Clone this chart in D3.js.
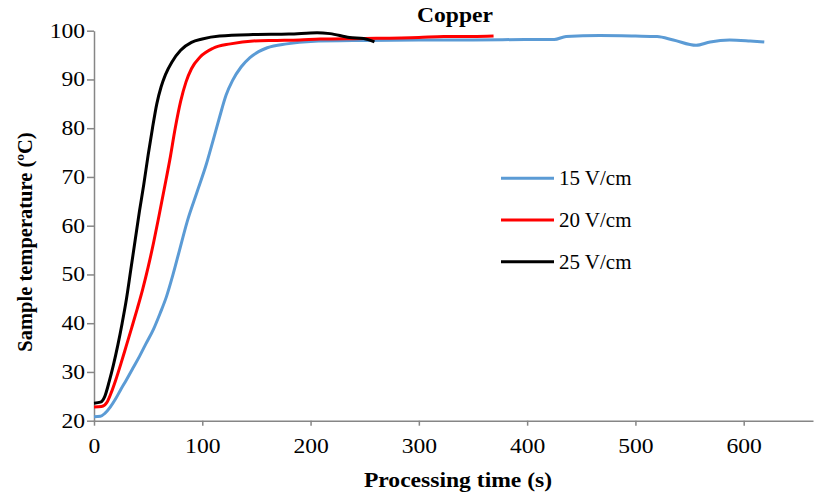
<!DOCTYPE html>
<html>
<head>
<meta charset="utf-8">
<script src="https://cdn.jsdelivr.net/npm/d3@7"></script>
<style>
  body { margin: 0; background: #fff; }
  svg text { font-family: "Liberation Serif", "Times New Roman", serif; fill: #000; }
  .axis path, .axis line { stroke: #868686; stroke-width: 1.5; }
  .axis text { font-size: 20px; font-family: "Liberation Serif", "Times New Roman", serif; }
</style>
</head>
<body>
<svg class="chart" width="814" height="496"></svg>
<script>
var width = 814,
    height = 496,
    stretch = 1.18; // the original text looks a bit wide

// series names and ticks
var seriesNames = ["15 V/cm", "20 V/cm", "25 V/cm"];
var xTicks = [0, 100, 200, 300, 400, 500, 600];
var yTicks = [20, 30, 40, 50, 60, 70, 80, 90, 100];

// 15 V/cm
var time15 = [0, 6, 10, 15, 20, 25, 30, 36, 42, 48, 55, 61, 67, 73, 79, 86, 95, 104, 110, 116, 122, 128, 136, 144, 152, 160, 178, 200, 250, 300, 350, 400, 425, 436, 467, 500, 520, 535, 556, 569, 587, 606, 619];
var temp15 = [20.8, 20.9, 21.5, 22.8, 24.5, 26.5, 28.4, 30.8, 33.2, 35.8, 38.8, 42, 45.5, 50, 55, 60.8, 66.8, 72.8, 77.5, 82.3, 86.8, 89.8, 92.6, 94.5, 95.7, 96.5, 97.3, 97.8, 98.0, 98.1, 98.1, 98.2, 98.2, 98.8, 99.0, 98.9, 98.8, 98.1, 97.0, 97.7, 98.1, 97.9, 97.7];

// 20 V/cm
var time20 = [0, 7, 12, 16, 20, 25, 30, 35, 40, 45, 50, 55, 60, 65, 70, 75, 80, 85, 90, 98, 110, 126, 147, 169, 190, 209, 250, 300, 323, 350, 369];
var temp20 = [22.8, 22.9, 23.8, 25.8, 28.3, 31.8, 35.5, 39.2, 43, 47, 51.5, 56.5, 62, 67.7, 73.5, 80, 85.5, 89.5, 92.2, 94.6, 96.4, 97.3, 97.9, 98.0, 98.1, 98.3, 98.4, 98.6, 98.8, 98.8, 98.9];

// 25 V/cm
var time25 = [0, 6, 10, 14, 18, 22, 26, 30, 34, 38, 42, 46, 50, 54, 58, 62, 66, 72, 80, 90, 100, 116, 147, 180, 206, 218, 236, 249, 259];
var temp25 = [23.6, 23.8, 25, 28, 31.5, 35.5, 40, 45, 51, 57, 63, 68.5, 74.5, 80, 85, 88.5, 91, 93.6, 96, 97.6, 98.3, 98.9, 99.2, 99.3, 99.6, 99.4, 98.6, 98.4, 97.7];

var seriesColors = ["#5B9BD5", "#FF0000", "#000000"];
var seriesTimes = [time15, time20, time25];
var seriesTemps = [temp15, temp20, temp25];

var chart = d3.select(".chart");

var x = d3.scaleLinear()
    .domain([0, 664])
    .range([94, 813]);

var y = d3.scaleLinear()
    .domain([20, 100])
    .range([420.7, 30.7]);

var xAxis = d3.axisBottom(x)
    .tickValues(xTicks)
    .tickSize(5)
    .tickPadding(13)
    .tickSizeOuter(0);

var yAxis = d3.axisLeft(y)
    .tickValues(yTicks)
    .tickSize(7)
    .tickPadding(0.6)
    .tickSizeOuter(0);

chart.append("g")
    .attr("class", "axis")
    .attr("transform", "translate(0," + y(20) + ")")
    .call(xAxis)
    .selectAll("text")
    .attr("transform", "scale(" + stretch + ",1)");

chart.append("g")
    .attr("class", "axis")
    .attr("transform", "translate(" + x(0) + ",0)")
    .call(yAxis)
    .selectAll("text")
    .attr("transform", "scale(" + stretch + ",1)");

var line = d3.line()
    .x(function (d) { return x(d[0]); })
    .y(function (d) { return y(d[1]); })
    .curve(d3.curveMonotoneX);

var series = seriesNames.map(function (name, i) {
    return {
        name: name,
        color: seriesColors[i],
        values: seriesTimes[i].map(function (t, j) { return [t, seriesTemps[i][j]]; })
    };
});

chart.selectAll(".series")
    .data(series)
    .enter()
    .append("path")
    .attr("class", "series")
    .attr("d", function (d) { return line(d.values); })
    .style("fill", "none")
    .style("stroke", function (d) { return d.color; })
    .style("stroke-width", 3)
    .style("stroke-linejoin", "round");

// legend
var legend = chart.selectAll(".legend")
    .data(series)
    .enter()
    .append("g")
    .attr("class", "legend")
    .attr("transform", function (d, i) { return "translate(501," + (178.3 + i * 41.7) + ")"; });

legend.append("line")
    .attr("x1", 0)
    .attr("x2", 53)
    .style("stroke", function (d) { return d.color; })
    .style("stroke-width", 3);

legend.append("text")
    .attr("transform", "translate(58,7) scale(1.05,1)")
    .style("font-size", "20px")
    .text(function (d) { return d.name; });

// titles
chart.append("text")
    .attr("transform", "translate(455,22) scale(" + stretch + ",1)")
    .attr("text-anchor", "middle")
    .style("font-size", "20px")
    .style("font-weight", "bold")
    .text("Copper");

chart.append("text")
    .attr("transform", "translate(458,487) scale(" + stretch + ",1)")
    .attr("text-anchor", "middle")
    .style("font-size", "20px")
    .style("font-weight", "bold")
    .text("Processing time (s)");

chart.append("text")
    .attr("transform", "translate(32,242) rotate(-90)")
    .attr("text-anchor", "middle")
    .style("font-size", "20.5px")
    .style("font-weight", "bold")
    .text("Sample temperature (ºC)");
</script>
</body>
</html>
